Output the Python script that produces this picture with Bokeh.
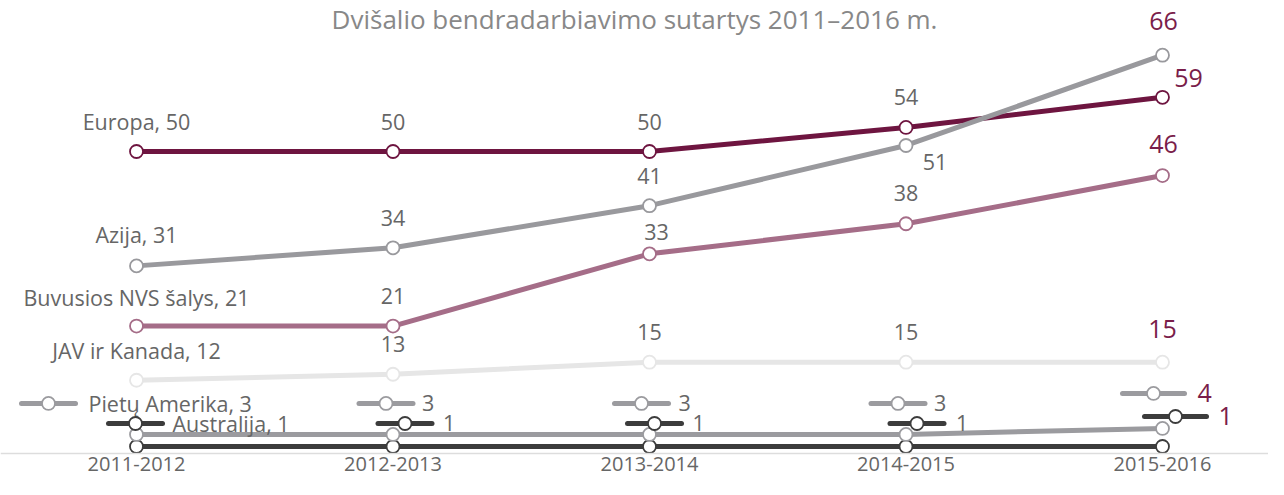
from bokeh.plotting import figure
from bokeh.models import Range1d, ColumnDataSource, Span
from bokeh.embed import file_html
from bokeh.resources import INLINE
from bokeh.core.properties import value

# ---------------- data ----------------
periods = ["2011-2012", "2012-2013", "2013-2014", "2014-2015", "2015-2016"]
europa = [50, 50, 50, 54, 59]
azija = [31, 34, 41, 51, 66]
nvs = [21, 21, 33, 38, 46]
jav_kanada = [12, 13, 15, 15, 15]
pietu_amerika = [3, 3, 3, 3, 4]
australija = [1, 1, 1, 1, 1]
series_names = ["Europa", "Azija", "Buvusios NVS šalys", "JAV ir Kanada",
                "Pietų Amerika", "Australija"]
title_text = "Dvišalio bendradarbiavimo sutartys 2011–2016 m."

# ---------------- layout / style ----------------
FONT = "Open Sans"
XS = 256.5          # px per period
YS = 6.02           # px per unit
W, H = 1268, 479
LEFT_PX = 136       # px of first period
ZERO_PX = 452       # px from top to value 0
TICK_MID_PX = 463   # px from top to the middle of the category labels
GREY_TXT = "#666666"
MAROON_TXT = "#7a1d4a"
LBL_FS = "21.5px"
BIG_FS = "25px"

colors = {
    "Europa": "#6e1540",
    "Azija": "#99999d",
    "Buvusios NVS šalys": "#a56d88",
    "JAV ir Kanada": "#e6e6e6",
    "Pietų Amerika": "#9b9b9f",
    "Australija": "#3c3c3c",
}
values = {
    "Europa": europa,
    "Azija": azija,
    "Buvusios NVS šalys": nvs,
    "JAV ir Kanada": jav_kanada,
    "Pietų Amerika": pietu_amerika,
    "Australija": australija,
}
# label offsets (px) for each series/period: (dx, dy) from the point, dy down
label_offsets = {
    "Europa": [(0, -30), (0, -30), (0, -30), (0, -30), (26, -19)],
    "Azija": [(0, -31), (0, -30), (0, -30), (29, 17), (1, -34)],
    "Buvusios NVS šalys": [(0, -29), (0, -30), (7, -22), (0, -31), (1, -32)],
    "JAV ir Kanada": [(0, -30), (0, -30), (0, -30), (0, -30), (0, -33)],
}
# small legend-like markers for the two bottom series
sym_offsets = {
    "Pietų Amerika": [(-88, -31), (-7, -31), (-8, -31), (-8, -31), (-9, -35)],
    "Australija": [(-1, -23), (12, -23), (5, -23), (11, -23), (13, -30)],
}
sym_half = [27, 27, 27, 27, 31]
sym_text_dx = {
    "Pietų Amerika": [-48, 29, 29, 28, 35],
    "Australija": [36, 50, 43, 50, 56],
}

x0 = -LEFT_PX / XS
p = figure(width=W, height=H, output_backend="svg",
           toolbar_location=None, x_range=Range1d(x0, x0 + W / XS),
           y_range=Range1d(-(H - ZERO_PX) / YS, ZERO_PX / YS),
           x_axis_location=None, y_axis_location=None, min_border=0,
           outline_line_color=None,
           background_fill_color="white", border_fill_color="white")
p.grid.visible = False

xs = list(range(len(periods)))

# baseline
p.add_layout(Span(location=-1 / YS, dimension="width", line_color="#dddddd",
                  line_width=1.5))

# category labels along the baseline
p.text(x=xs, y=[-(TICK_MID_PX - ZERO_PX) / YS] * len(xs), text=periods,
       text_font=value(FONT), text_font_size="20px", text_color=GREY_TXT,
       text_align="center", text_baseline="middle")

# title
p.text(x=[(634 - LEFT_PX) / XS], y=[ZERO_PX / YS], text=[title_text],
       text_font=value(FONT), text_font_size="26px", text_color="#888888",
       text_align="center", text_baseline="top", y_offset=0)

draw_order = ["Australija", "Pietų Amerika", "JAV ir Kanada",
              "Buvusios NVS šalys", "Europa", "Azija"]
for name in draw_order:
    ys = values[name]
    c = colors[name]
    p.line(xs, ys, line_color=c, line_width=5)
    p.scatter(xs, ys, size=13, fill_color="white", line_color=c, line_width=1.8)

# value labels for the four upper series
for name, offs in label_offsets.items():
    ys = values[name]
    txt, tx, ty, dx, dy, col, fs = [], [], [], [], [], [], []
    for i, v in enumerate(ys):
        last = i == len(ys) - 1
        txt.append(f"{name}, {v}" if i == 0 else str(v))
        tx.append(i)
        ty.append(v)
        dx.append(offs[i][0])
        dy.append(offs[i][1])
        col.append(MAROON_TXT if last else GREY_TXT)
        fs.append(BIG_FS if last else LBL_FS)
    src = ColumnDataSource(dict(x=tx, y=ty, text=txt, dx=dx, dy=dy, col=col, fs=fs))
    p.text(x="x", y="y", text="text", x_offset="dx", y_offset="dy",
           text_color="col", text_font_size="fs", text_font=value(FONT),
           text_align="center", text_baseline="middle", source=src)

# legend-like markers + labels for the two bottom series
for name in ["Pietų Amerika", "Australija"]:
    ys = values[name]
    c = colors[name]
    sx0, sx1, sy, cx = [], [], [], []
    txt, tx, ty, col, fs = [], [], [], [], []
    for i, v in enumerate(ys):
        dx, dy = sym_offsets[name][i]
        yc = v - dy / YS
        cx.append(i + dx / XS)
        sx0.append(i + (dx - sym_half[i]) / XS)
        sx1.append(i + (dx + sym_half[i]) / XS)
        sy.append(yc)
        last = i == len(ys) - 1
        txt.append(f"{name}, {v}" if i == 0 else str(v))
        tx.append(i + sym_text_dx[name][i] / XS)
        ty.append(yc)
        col.append(MAROON_TXT if last else GREY_TXT)
        fs.append(BIG_FS if last else LBL_FS)
    p.segment(x0=sx0, y0=sy, x1=sx1, y1=sy, line_color=c, line_width=5,
              line_cap="round")
    p.scatter(cx, sy, size=13, fill_color="white", line_color=c, line_width=1.8)
    src = ColumnDataSource(dict(x=tx, y=ty, text=txt, col=col, fs=fs))
    p.text(x="x", y="y", text="text", text_color="col", text_font_size="fs",
           text_font=value(FONT), text_align="left", text_baseline="middle",
           source=src)

open("out.html", "w").write(file_html(p, INLINE))
